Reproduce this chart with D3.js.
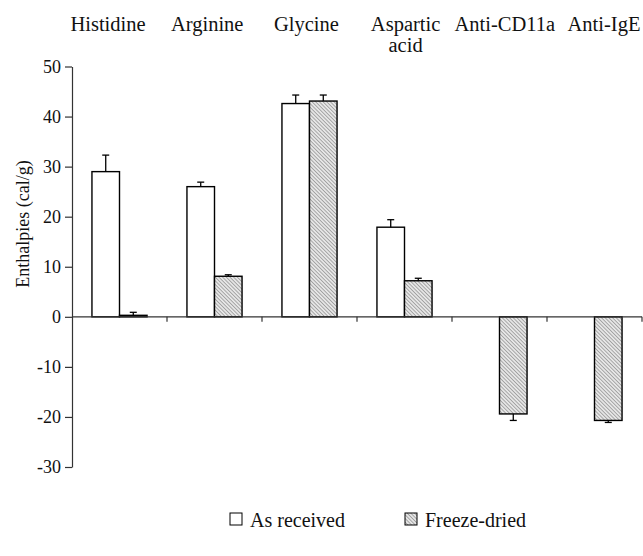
<!DOCTYPE html>
<html>
<head>
<meta charset="utf-8">
<script src="https://cdn.jsdelivr.net/npm/d3@7"></script>
<style>
  body { margin: 0; background: #fff; }
  text { font-family: "Liberation Serif", "Times New Roman", serif; fill: #111; }
</style>
</head>
<body>
<div id="chart"></div>
<script>
var categories = ["Histidine", "Arginine", "Glycine", "Aspartic acid", "Anti-CD11a", "Anti-IgE"];
var seriesNames = ["As received", "Freeze-dried"];
var asReceived = [29.0, 26.0, 42.6, 17.9, null, null];
var asReceivedErr = [3.3, 0.9, 1.7, 1.5, null, null];
var freezeDried = [0.3, 8.1, 43.1, 7.2, -19.4, -20.7];
var freezeDriedErr = [0.6, 0.3, 1.2, 0.5, 1.3, 0.4];
var yTicks = [-30, -20, -10, 0, 10, 20, 30, 40, 50];

var svgWidth = 643, svgHeight = 556;

var svg = d3.select("#chart").append("svg")
    .attr("width", svgWidth).attr("height", svgHeight);

var defs = svg.append("defs");
var pat = defs.append("pattern")
    .attr("id", "hatch")
    .attr("patternUnits", "userSpaceOnUse")
    .attr("width", 2.6).attr("height", 2.6)
    .attr("patternTransform", "rotate(-45)");
pat.append("rect").attr("width", 2.6).attr("height", 2.6).attr("fill", "#e6e6e6");
pat.append("line")
    .attr("x1", 0).attr("y1", 0).attr("x2", 0).attr("y2", 2.6)
    .attr("stroke", "#6a6a6a").attr("stroke-width", 1);

var y = d3.scaleLinear().domain([-30, 50]).range([467, 66.5]);
var x = d3.scaleBand().domain(categories).range([72, 642])
    .paddingInner(0.42).paddingOuter(0.21);
var xs = d3.scaleBand().domain(seriesNames).range([0, x.bandwidth()]);
// top labels are spread a little wider than the bands
var xLabel = d3.scalePoint().domain(categories).range([108, 604]);

var data = [];
categories.forEach(function(c, i) {
  data.push({cat: c, s: seriesNames[0], v: asReceived[i], e: asReceivedErr[i]});
  data.push({cat: c, s: seriesNames[1], v: freezeDried[i], e: freezeDriedErr[i]});
});
data = data.filter(function(d) { return d.v != null; });

// bars
svg.append("g").selectAll("rect").data(data).enter().append("rect")
    .attr("x", function(d) { return x(d.cat) + xs(d.s); })
    .attr("y", function(d) { return y(Math.max(0, d.v)); })
    .attr("width", xs.bandwidth())
    .attr("height", function(d) { return Math.abs(y(d.v) - y(0)); })
    .attr("fill", function(d) { return d.s === seriesNames[0] ? "#fff" : "url(#hatch)"; })
    .attr("stroke", "#000").attr("stroke-width", 1.4);

// error bars
var eb = svg.append("g").attr("stroke", "#000").attr("stroke-width", 1.3);
data.forEach(function(d) {
  var cx = x(d.cat) + xs(d.s) + xs.bandwidth() / 2;
  var end = d.v >= 0 ? d.v + d.e : d.v - d.e;
  eb.append("line").attr("x1", cx).attr("x2", cx)
    .attr("y1", y(d.v)).attr("y2", y(end));
  eb.append("line").attr("x1", cx - 3.5).attr("x2", cx + 3.5)
    .attr("y1", y(end)).attr("y2", y(end));
});

// y axis
var yAxis = svg.append("g").attr("transform", "translate(72,0)")
    .call(d3.axisLeft(y).tickValues(yTicks).tickSize(7).tickSizeOuter(0)
      .tickFormat(function(d) { return String(d); }));
yAxis.select(".domain").attr("stroke", "#333").attr("stroke-width", 1.2);
yAxis.selectAll(".tick line").attr("stroke", "#333").attr("stroke-width", 1.2);
yAxis.selectAll(".tick text")
    .attr("font-size", 18).attr("font-family", "Liberation Serif").attr("fill", "#111").attr("x", -11);

// x axis along zero
var xAxis = svg.append("g").attr("transform", "translate(0," + y(0) + ")");
xAxis.append("line").attr("x1", 72).attr("x2", 642).attr("y1", 0).attr("y2", 0)
    .attr("stroke", "#333").attr("stroke-width", 1.2);
xAxis.selectAll(".xt").data(categories).enter().append("line")
    .attr("x1", function(c) { return x(c) + x.bandwidth() + x.step() * x.paddingInner() / 2; })
    .attr("x2", function(c) { return x(c) + x.bandwidth() + x.step() * x.paddingInner() / 2; })
    .attr("y1", 0).attr("y2", 5)
    .attr("stroke", "#333").attr("stroke-width", 1.2);

// category labels on top
svg.append("g").selectAll("text").data(categories).enter().append("text")
    .attr("x", function(c) { return xLabel(c); })
    .attr("y", 31)
    .attr("text-anchor", "middle")
    .attr("font-size", 20.5)
    .each(function(c) {
      var parts = c === "Aspartic acid" ? ["Aspartic", "acid"] : [c];
      var t = d3.select(this);
      parts.forEach(function(p, i) {
        t.append("tspan").attr("x", xLabel(c)).attr("dy", i ? 21 : 0).text(p);
      });
    });

// y label
svg.append("text")
    .attr("transform", "translate(29,224) rotate(-90)")
    .attr("text-anchor", "middle")
    .attr("font-size", 18)
    .text("Enthalpies (cal/g)");

// legend
var legend = svg.append("g");
var legX = [230, 405];
seriesNames.forEach(function(s, i) {
  legend.append("rect").attr("x", legX[i]).attr("y", 513).attr("width", 12).attr("height", 12)
    .attr("fill", i ? "url(#hatch)" : "#fff").attr("stroke", "#000").attr("stroke-width", 1);
  legend.append("text").attr("x", legX[i] + 20).attr("y", 527)
    .attr("font-size", 20).text(s);
});
</script>
</body>
</html>
